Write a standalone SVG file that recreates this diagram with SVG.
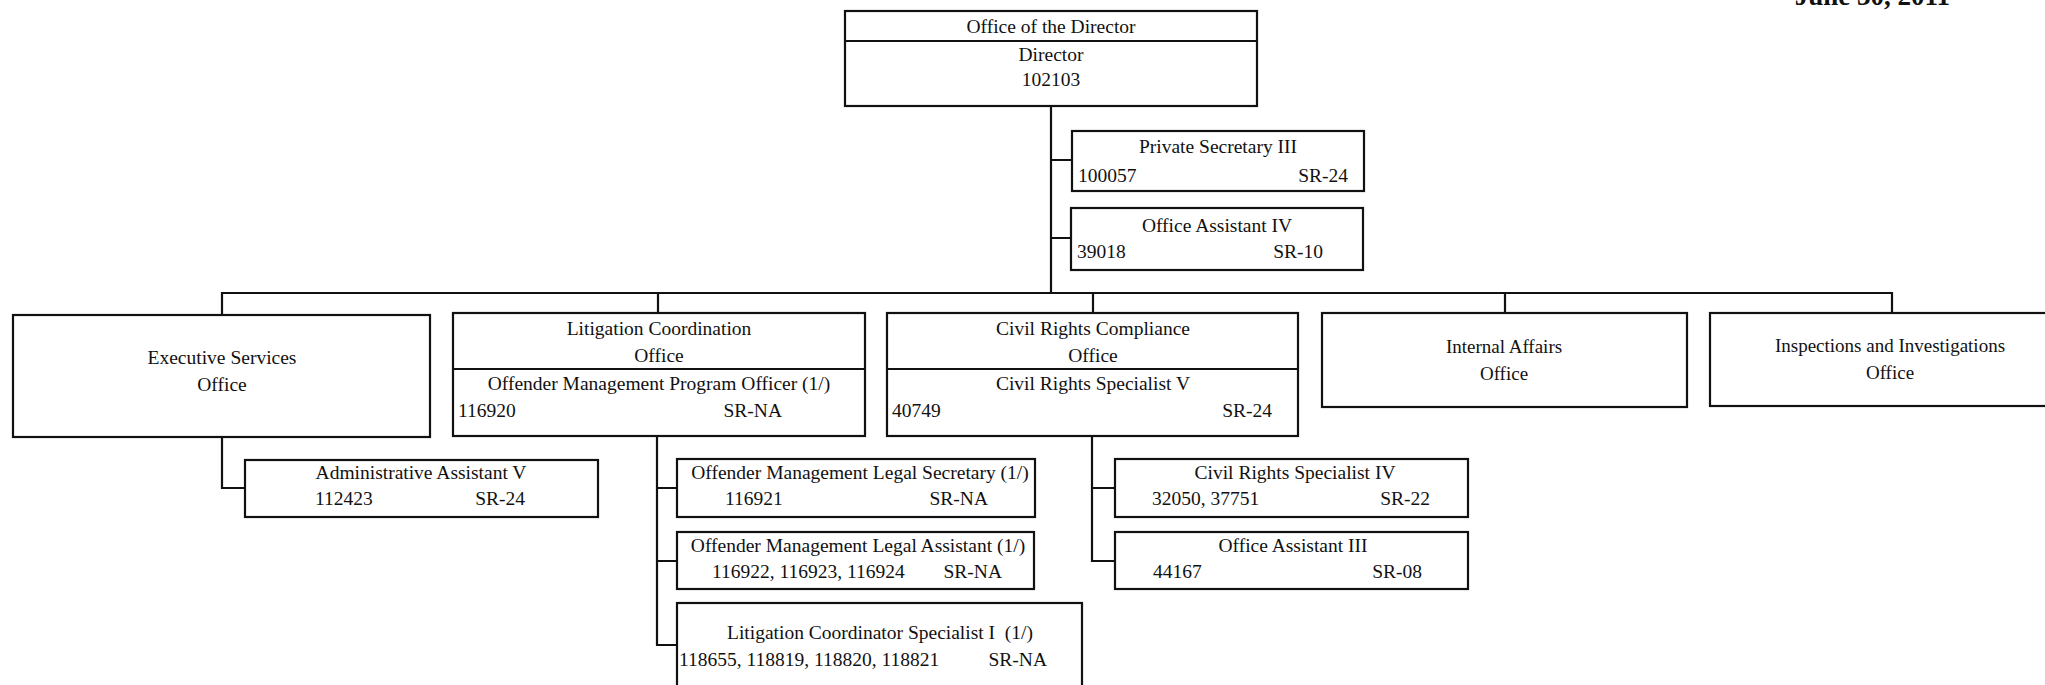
<svg xmlns="http://www.w3.org/2000/svg" width="2045" height="685" viewBox="0 0 2045 685">
<style>
.box{fill:#fff;stroke:#111;stroke-width:2.2}
.ln{fill:none;stroke:#111;stroke-width:2.2}
text{font-family:"Liberation Serif","Times New Roman",serif;font-size:19.5px;fill:#111}
.c{text-anchor:middle}
.e{text-anchor:end}
.s{font-size:19px}
.date{font-weight:bold;font-size:27px}
</style>
<rect width="2045" height="685" fill="#fff"/>
<text class="date e" x="1950" y="5">June 30, 2011</text>
<g id="connectors">
<path class="ln" d="M1051 106V293M1051 160H1072M1051 238H1071"/>
<path class="ln" d="M222 315V293H1892V313M658 293V313M1093 293V313M1505 293V313"/>
<path class="ln" d="M222 437V488H245"/>
<path class="ln" d="M657 436V645H677M657 488H677M657 561H677"/>
<path class="ln" d="M1092 436V561H1115M1092 488H1115"/>
</g>
<g id="director">
<rect class="box" x="845" y="11" width="412" height="95"/>
<line class="ln" x1="845" y1="41" x2="1257" y2="41"/>
<text class="c" x="1051" y="33">Office of the Director</text>
<text class="c" x="1051" y="61">Director</text>
<text class="c" x="1051" y="86">102103</text>
</g>
<g id="private-secretary">
<rect class="box" x="1072" y="131" width="292" height="60"/>
<text class="c" x="1218" y="153">Private Secretary III</text>
<text x="1078" y="182">100057</text>
<text class="e" x="1348" y="182">SR-24</text>
</g>
<g id="office-assistant-iv">
<rect class="box" x="1071" y="208" width="292" height="62"/>
<text class="c" x="1217" y="232">Office Assistant IV</text>
<text x="1077" y="258">39018</text>
<text class="e" x="1323" y="258">SR-10</text>
</g>
<g id="executive-services">
<rect class="box" x="13" y="315" width="417" height="122"/>
<text class="c" x="222" y="364">Executive Services</text>
<text class="c" x="222" y="391">Office</text>
</g>
<g id="litigation">
<rect class="box" x="453" y="313" width="412" height="123"/>
<line class="ln" x1="453" y1="369" x2="865" y2="369"/>
<text class="c" x="659" y="335">Litigation Coordination</text>
<text class="c" x="659" y="362">Office</text>
<text class="c" x="659" y="390">Offender Management Program Officer (1/)</text>
<text x="458" y="417">116920</text>
<text class="e" x="782" y="417">SR-NA</text>
</g>
<g id="civil-rights">
<rect class="box" x="887" y="313" width="411" height="123"/>
<line class="ln" x1="887" y1="369" x2="1298" y2="369"/>
<text class="c" x="1093" y="335">Civil Rights Compliance</text>
<text class="c" x="1093" y="362">Office</text>
<text class="c" x="1093" y="390">Civil Rights Specialist V</text>
<text x="892" y="417">40749</text>
<text class="e" x="1272" y="417">SR-24</text>
</g>
<g id="internal-affairs">
<rect class="box" x="1322" y="313" width="365" height="94"/>
<text class="c s" x="1504" y="353">Internal Affairs</text>
<text class="c s" x="1504" y="380">Office</text>
</g>
<g id="inspections">
<rect class="box" x="1710" y="313" width="345" height="93"/>
<text class="c s" x="1890" y="352">Inspections and Investigations</text>
<text class="c s" x="1890" y="379">Office</text>
</g>
<g id="admin-assistant">
<rect class="box" x="245" y="460" width="353" height="57"/>
<text class="c" x="421" y="479">Administrative Assistant V</text>
<text x="315" y="505">112423</text>
<text class="e" x="525" y="505">SR-24</text>
</g>
<g id="legal-secretary">
<rect class="box" x="677" y="459" width="358" height="58"/>
<text class="c" x="860" y="479">Offender Management Legal Secretary (1/)</text>
<text x="725" y="505">116921</text>
<text class="e" x="988" y="505">SR-NA</text>
</g>
<g id="legal-assistant">
<rect class="box" x="677" y="532" width="357" height="57"/>
<text class="c" x="858" y="552">Offender Management Legal Assistant (1/)</text>
<text x="712" y="578">116922, 116923, 116924</text>
<text class="e" x="1002" y="578">SR-NA</text>
</g>
<g id="litigation-specialist">
<rect class="box" x="677" y="603" width="405" height="100"/>
<text class="c" x="880" y="639" xml:space="preserve">Litigation Coordinator Specialist I  (1/)</text>
<text x="679" y="666">118655, 118819, 118820, 118821</text>
<text class="e" x="1047" y="666">SR-NA</text>
</g>
<g id="civil-rights-specialist-iv">
<rect class="box" x="1115" y="459" width="353" height="58"/>
<text class="c" x="1295" y="479">Civil Rights Specialist IV</text>
<text x="1152" y="505">32050, 37751</text>
<text class="e" x="1430" y="505">SR-22</text>
</g>
<g id="office-assistant-iii">
<rect class="box" x="1115" y="532" width="353" height="57"/>
<text class="c" x="1293" y="552">Office Assistant III</text>
<text x="1153" y="578">44167</text>
<text class="e" x="1422" y="578">SR-08</text>
</g>
</svg>
